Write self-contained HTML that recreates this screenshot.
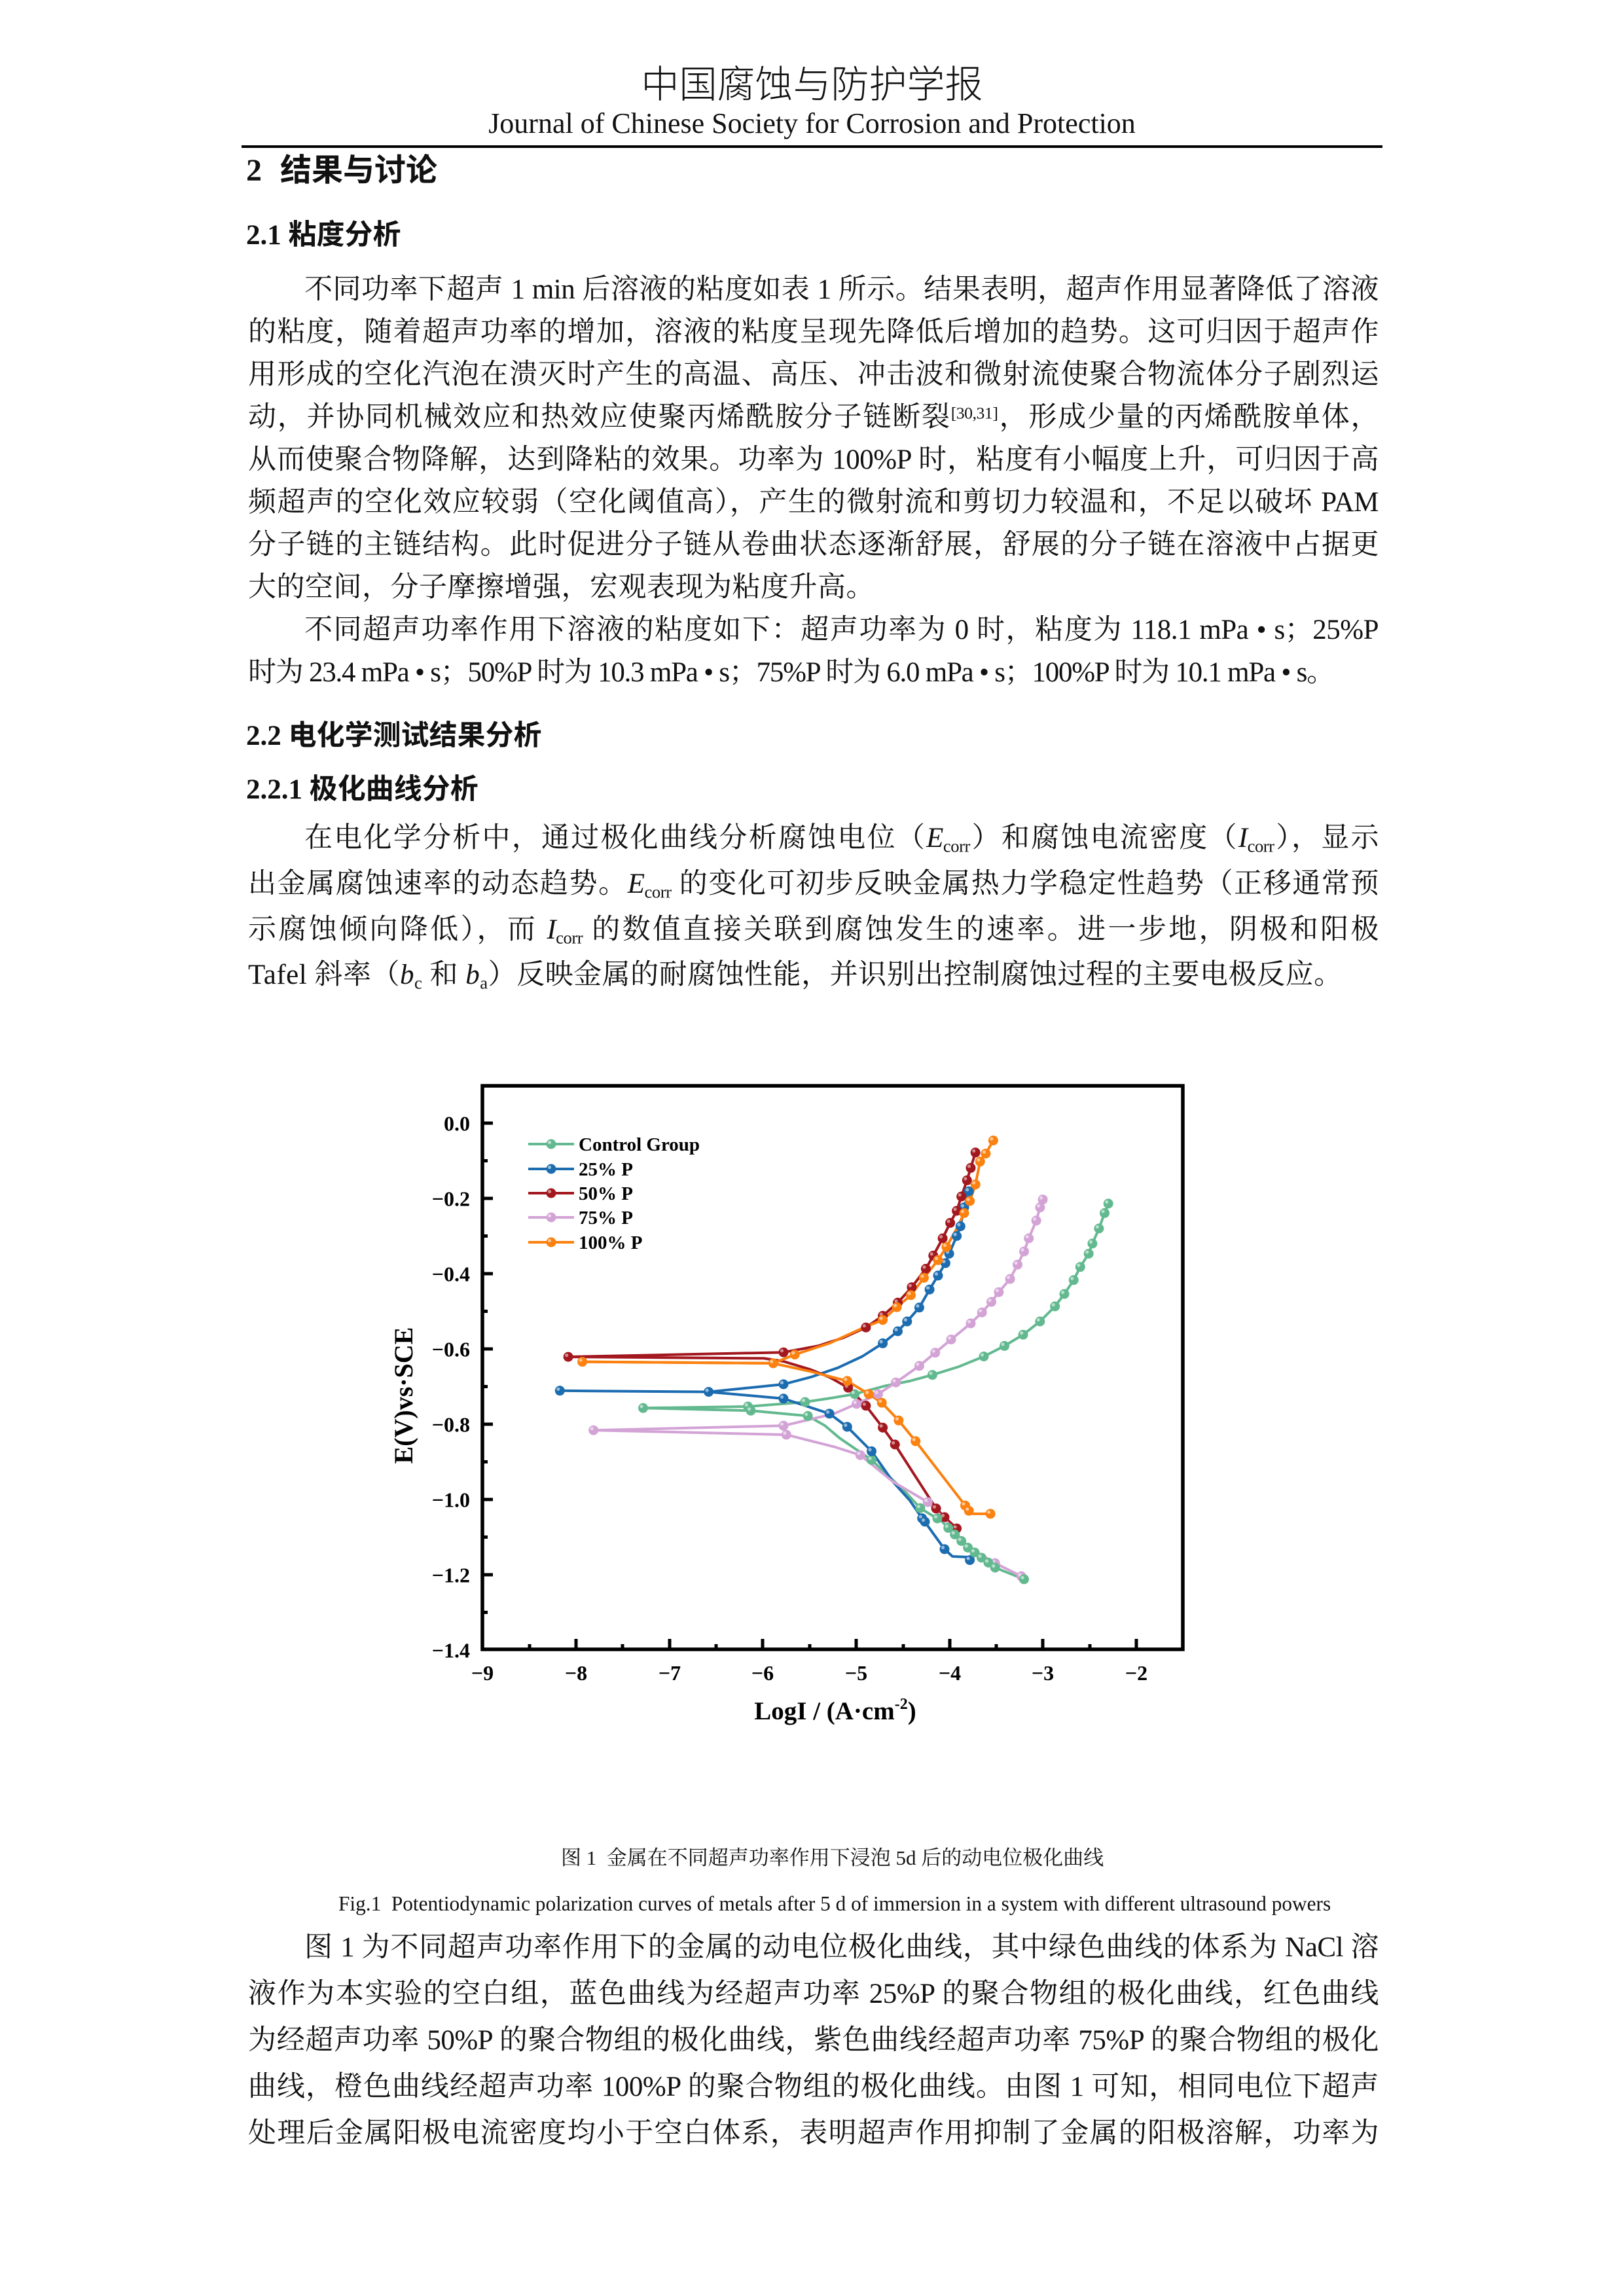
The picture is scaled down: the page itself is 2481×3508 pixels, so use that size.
<!DOCTYPE html>
<html lang="zh-CN">
<head>
<meta charset="utf-8">
<style>
html,body{margin:0;padding:0;background:#fff;}
#page{position:relative;width:2481px;height:3508px;overflow:hidden;background:#fff;color:#111;}
.t{position:absolute;left:379px;width:1727px;font-family:"Liberation Serif","Noto Serif CJK SC",serif;font-size:43px;line-height:43px;white-space:normal;}
.j{text-align:justify;text-align-last:justify;letter-spacing:-0.5px;}
.ind{text-indent:86px;}
.h{position:absolute;left:376px;font-family:"Liberation Serif","Noto Sans CJK SC",sans-serif;font-weight:bold;white-space:nowrap;}
sub{font-size:0.62em;vertical-align:-0.28em;line-height:0;}
sup{font-size:0.6em;vertical-align:0.45em;line-height:0;}
svg text{font-family:"Liberation Serif",serif;font-weight:bold;fill:#000;}
</style>
</head>
<body>
<div id="page">

<div style="position:absolute;left:0;width:2481px;top:101px;text-align:center;font-family:'Liberation Sans','Noto Sans CJK SC',sans-serif;font-weight:300;font-size:58px;line-height:58px;">中国腐蚀与防护学报</div>
<div style="position:absolute;left:0;width:2481px;top:167px;text-align:center;font-family:'Liberation Serif',serif;font-size:44px;line-height:44px;">Journal of Chinese Society for Corrosion and Protection</div>
<div style="position:absolute;left:369px;top:222px;width:1743px;height:4px;background:#000;"></div>

<div class="h" style="top:237px;font-size:48px;line-height:48px;">2<span style="margin-left:28px">结果与讨论</span></div>
<div class="h" style="top:338px;font-size:43px;line-height:43px;">2.1 粘度分析</div>

<div class="t j ind" style="top:421px;">不同功率下超声 1 min 后溶液的粘度如表 1 所示。结果表明，超声作用显著降低了溶液</div>
<div class="t j" style="top:486px;">的粘度，随着超声功率的增加，溶液的粘度呈现先降低后增加的趋势。这可归因于超声作</div>
<div class="t j" style="top:551px;">用形成的空化汽泡在溃灭时产生的高温、高压、冲击波和微射流使聚合物流体分子剧烈运</div>
<div class="t j" style="top:616px;">动，并协同机械效应和热效应使聚丙烯酰胺分子链断裂<sup>[30,31]</sup>，形成少量的丙烯酰胺单体，</div>
<div class="t j" style="top:681px;">从而使聚合物降解，达到降粘的效果。功率为 100%P 时，粘度有小幅度上升，可归因于高</div>
<div class="t j" style="top:746px;">频超声的空化效应较弱（空化阈值高），产生的微射流和剪切力较温和，不足以破坏 PAM</div>
<div class="t j" style="top:811px;">分子链的主链结构。此时促进分子链从卷曲状态逐渐舒展，舒展的分子链在溶液中占据更</div>
<div class="t" style="top:876px;letter-spacing:0.5px;">大的空间，分子摩擦增强，宏观表现为粘度升高。</div>
<div class="t j ind" style="top:941px;">不同超声功率作用下溶液的粘度如下：超声功率为 0 时，粘度为 118.1 mPa • s；25%P</div>
<div class="t" style="top:1006px;width:1800px;letter-spacing:-1.25px;white-space:nowrap;">时为 23.4 mPa • s；50%P 时为 10.3 mPa • s；75%P 时为 6.0 mPa • s；100%P 时为 10.1 mPa • s。</div>

<div class="h" style="top:1103px;font-size:43px;line-height:43px;">2.2 电化学测试结果分析</div>
<div class="h" style="top:1185px;font-size:43px;line-height:43px;">2.2.1 极化曲线分析</div>

<div class="t j ind" style="top:1259px;">在电化学分析中，通过极化曲线分析腐蚀电位（<i>E</i><sub>corr</sub>）和腐蚀电流密度（<i>I</i><sub>corr</sub>），显示</div>
<div class="t j" style="top:1329px;">出金属腐蚀速率的动态趋势。<i>E</i><sub>corr</sub> 的变化可初步反映金属热力学稳定性趋势（正移通常预</div>
<div class="t j" style="top:1399px;">示腐蚀倾向降低），而 <i>I</i><sub>corr</sub> 的数值直接关联到腐蚀发生的速率。进一步地，阴极和阳极</div>
<div class="t" style="top:1468px;letter-spacing:0.5px;">Tafel 斜率（<i>b</i><sub>c</sub> 和 <i>b</i><sub>a</sub>）反映金属的耐腐蚀性能，并识别出控制腐蚀过程的主要电极反应。</div>

<svg width="2481" height="3508" viewBox="0 0 2481 3508" xmlns="http://www.w3.org/2000/svg" style="position:absolute;left:0;top:0;">
<defs>
<g id="mg"><circle r="7.5" fill="#63b98f"/><circle cx="-2.5" cy="-2.5" r="2.6" fill="#fff" opacity=".55"/></g>
<g id="mb"><circle r="7.5" fill="#1c6cb0"/><circle cx="-2.5" cy="-2.5" r="2.6" fill="#fff" opacity=".55"/></g>
<g id="mr"><circle r="7.5" fill="#a3181f"/><circle cx="-2.5" cy="-2.5" r="2.6" fill="#fff" opacity=".5"/></g>
<g id="mp"><circle r="7.5" fill="#d3a3d6"/><circle cx="-2.5" cy="-2.5" r="2.6" fill="#fff" opacity=".55"/></g>
<g id="mo"><circle r="7.5" fill="#fb8110"/><circle cx="-2.5" cy="-2.5" r="2.6" fill="#fff" opacity=".55"/></g>
</defs>

<rect x="737" y="1659" width="1070" height="861" fill="none" stroke="#000" stroke-width="5.5"/>
<path d="M737 1716h16M737 1831h16M737 1946h16M737 2061h16M737 2176h16M737 2291h16M737 2406h16
M737 1773.5h8M737 1888.5h8M737 2003.5h8M737 2118.5h8M737 2233.5h8M737 2348.5h8M737 2463.5h8
M880 2520v-16M1023 2520v-16M1165 2520v-16M1308 2520v-16M1451 2520v-16M1593 2520v-16M1736 2520v-16
M809 2520v-8M951 2520v-8M1094 2520v-8M1237 2520v-8M1380 2520v-8M1522 2520v-8M1665 2520v-8" stroke="#000" stroke-width="5" fill="none"/>

<g font-size="32" text-anchor="end">
<text x="718" y="1727.5">0.0</text>
<text x="718" y="1842.5">−0.2</text>
<text x="718" y="1957.5">−0.4</text>
<text x="718" y="2072.5">−0.6</text>
<text x="718" y="2187.5">−0.8</text>
<text x="718" y="2302.5">−1.0</text>
<text x="718" y="2417.5">−1.2</text>
<text x="718" y="2532.5">−1.4</text>
</g>
<g font-size="32" text-anchor="middle">
<text x="737" y="2567">−9</text>
<text x="880" y="2567">−8</text>
<text x="1023" y="2567">−7</text>
<text x="1165" y="2567">−6</text>
<text x="1308" y="2567">−5</text>
<text x="1451" y="2567">−4</text>
<text x="1593" y="2567">−3</text>
<text x="1736" y="2567">−2</text>
</g>
<text transform="translate(630,2132) rotate(-90)" font-size="40" text-anchor="middle">E(V)vs·SCE</text>
<text x="1276" y="2627" font-size="39" text-anchor="middle">LogI / (A·cm<tspan font-size="24" dy="-16">-2</tspan><tspan dy="16">)</tspan></text>

<g fill="none" stroke-width="4" stroke-linejoin="round" stroke-linecap="round">
<polyline stroke="#63b98f" points="982.5,2151.3 1142.7,2149 1229.9,2142.1 1270,2136 1305.7,2130 1350,2118 1390,2110 1424.4,2100.7 1465,2088 1503,2072.5 1534.5,2056.4 1563.1,2039.2 1588.8,2019 1611.7,1996 1626,1977 1640.3,1955.8 1650.3,1935.7 1663.2,1915.5 1668.9,1900 1678.9,1877 1687.5,1853.4 1693.2,1839"/>
<polyline stroke="#63b98f" points="982.5,2151.3 1147,2155.3 1234.2,2163.4 1260,2178 1282.8,2197.3 1331.5,2230.6 1381.5,2277.8 1405.8,2304.2 1438.7,2324.4 1478.7,2364.6 1520.2,2395.1 1564.5,2412.9"/>

<polyline stroke="#1c6cb0" points="855.3,2124.8 1082.6,2126.6 1197,2115 1238.5,2104.1 1280,2089.8 1317.2,2072.5 1348.6,2052.4 1371.5,2034 1385.8,2019 1404.4,1997.8 1420.1,1970.2 1433,1948.9 1444.4,1929.9 1450.1,1915.5 1461.6,1888.5 1467.3,1873.6 1473,1844.8 1480.2,1820.1"/>
<polyline stroke="#1c6cb0" points="1082.6,2126.6 1197,2136.9 1267.1,2159.9 1294.3,2180 1331.5,2217.4 1364.3,2264 1390.1,2292.7 1408.7,2319.8 1417.3,2331.3 1443,2366.9 1455,2378 1478,2379 1481.6,2383.6"/>

<polyline stroke="#a3181f" points="868.1,2073.1 1197,2066.2 1249.9,2056.4 1288.6,2043.8 1322.9,2028.2 1348.6,2010.4 1371.5,1990.3 1392.9,1966.7 1414.4,1938.5 1425.8,1918.4 1440.1,1892 1451.6,1868.4 1461.6,1850 1468.7,1828.1 1477.3,1803.4 1483,1784.4 1490.2,1760.9"/>
<polyline stroke="#a3181f" points="868.1,2073.1 1167,2075.4 1197,2080 1238.5,2092.6 1267.1,2104.1 1295.7,2120.2 1322.9,2147.8 1348.6,2181.2 1367.2,2207 1430.1,2304.8 1443,2318 1461.6,2335.3"/>

<polyline stroke="#d3a3d6" points="906.7,2185.2 1197,2178.3 1274.3,2159.9 1308.6,2145 1341.5,2130 1368.6,2112.2 1404.4,2086.9 1428.7,2066.8 1453,2046.6 1483,2021.9 1500.2,2005.2 1514.5,1989.1 1525.9,1974.2 1543.1,1954.1 1554.5,1932.2 1564.5,1912.1 1571.7,1892 1583.1,1864.9 1588.9,1844.8 1593.1,1832.7"/>
<polyline stroke="#d3a3d6" points="906.7,2185.2 1201.3,2192.1 1274.3,2210.5 1314.3,2223.2 1364.3,2264 1417.3,2295 1445.9,2324.4 1478.7,2363.5 1520.2,2388.2 1560.3,2408.3"/>

<polyline stroke="#fb8110" points="889.6,2080.6 1181.3,2082.9 1214.2,2069.6 1267.1,2052.4 1317.2,2029.4 1348.6,2016.7 1370.1,1997.2 1391.5,1978.8 1411.5,1952.3 1433,1925.3 1445.9,1905.2 1460.2,1879.9 1473,1853.4 1481.6,1835 1490.2,1809.7 1497.3,1774.7 1505.9,1762.6 1517.4,1742.5"/>
<polyline stroke="#fb8110" points="889.6,2080.6 1181.3,2082.9 1238.5,2095.5 1294.3,2109.9 1327.2,2130 1347.2,2143.2 1372.9,2170.3 1398.7,2201.9 1474.5,2300.2 1480.2,2308.3 1485.9,2312.9 1513.1,2312.9"/>
</g>

<g>
<use href="#mg" x="982.5" y="2151.3"/><use href="#mg" x="1142.7" y="2149"/><use href="#mg" x="1147" y="2155.3"/><use href="#mg" x="1229.9" y="2142.1"/><use href="#mg" x="1234.2" y="2163.4"/><use href="#mg" x="1305.7" y="2130"/><use href="#mg" x="1331.5" y="2230.6"/><use href="#mg" x="1424.4" y="2100.7"/><use href="#mg" x="1503" y="2072.5"/><use href="#mg" x="1534.5" y="2056.4"/><use href="#mg" x="1563.1" y="2039.2"/><use href="#mg" x="1588.8" y="2019"/><use href="#mg" x="1611.7" y="1996"/><use href="#mg" x="1626" y="1977"/><use href="#mg" x="1640.3" y="1955.8"/><use href="#mg" x="1650.3" y="1935.7"/><use href="#mg" x="1663.2" y="1915.5"/><use href="#mg" x="1668.9" y="1900"/><use href="#mg" x="1678.9" y="1877"/><use href="#mg" x="1687.5" y="1853.4"/><use href="#mg" x="1693.2" y="1839"/>
</g>
<g>
<use href="#mb" x="855.3" y="2124.8"/><use href="#mb" x="1082.6" y="2126.6"/><use href="#mb" x="1197" y="2115"/><use href="#mb" x="1348.6" y="2052.4"/><use href="#mb" x="1371.5" y="2034"/><use href="#mb" x="1385.8" y="2019"/><use href="#mb" x="1404.4" y="1997.8"/><use href="#mb" x="1420.1" y="1970.2"/><use href="#mb" x="1433" y="1948.9"/><use href="#mb" x="1444.4" y="1929.9"/><use href="#mb" x="1450.1" y="1915.5"/><use href="#mb" x="1461.6" y="1888.5"/><use href="#mb" x="1467.3" y="1873.6"/><use href="#mb" x="1473" y="1844.8"/><use href="#mb" x="1480.2" y="1820.1"/><use href="#mb" x="1197" y="2136.9"/><use href="#mb" x="1267.1" y="2159.9"/><use href="#mb" x="1294.3" y="2180"/><use href="#mb" x="1331.5" y="2217.4"/><use href="#mb" x="1408.7" y="2319.8"/><use href="#mb" x="1413" y="2325"/><use href="#mb" x="1443" y="2366.9"/><use href="#mb" x="1481.6" y="2383.6"/>
</g>
<g>
<use href="#mr" x="868.1" y="2073.1"/><use href="#mr" x="1197" y="2066.2"/><use href="#mr" x="1322.9" y="2028.2"/><use href="#mr" x="1348.6" y="2010.4"/><use href="#mr" x="1371.5" y="1990.3"/><use href="#mr" x="1392.9" y="1966.7"/><use href="#mr" x="1414.4" y="1938.5"/><use href="#mr" x="1425.8" y="1918.4"/><use href="#mr" x="1440.1" y="1892"/><use href="#mr" x="1451.6" y="1868.4"/><use href="#mr" x="1461.6" y="1850"/><use href="#mr" x="1468.7" y="1828.1"/><use href="#mr" x="1477.3" y="1803.4"/><use href="#mr" x="1483" y="1784.4"/><use href="#mr" x="1490.2" y="1760.9"/><use href="#mr" x="1295.7" y="2120.2"/><use href="#mr" x="1322.9" y="2147.8"/><use href="#mr" x="1348.6" y="2181.2"/><use href="#mr" x="1367.2" y="2207"/><use href="#mr" x="1430.1" y="2304.8"/><use href="#mr" x="1443" y="2318"/><use href="#mr" x="1461.6" y="2335.3"/>
</g>
<g>
<use href="#mp" x="906.7" y="2185.2"/><use href="#mp" x="1197" y="2178.3"/><use href="#mp" x="1308.6" y="2145"/><use href="#mp" x="1341.5" y="2130"/><use href="#mp" x="1368.6" y="2112.2"/><use href="#mp" x="1404.4" y="2086.9"/><use href="#mp" x="1428.7" y="2066.8"/><use href="#mp" x="1453" y="2046.6"/><use href="#mp" x="1483" y="2021.9"/><use href="#mp" x="1500.2" y="2005.2"/><use href="#mp" x="1514.5" y="1989.1"/><use href="#mp" x="1525.9" y="1974.2"/><use href="#mp" x="1543.1" y="1954.1"/><use href="#mp" x="1554.5" y="1932.2"/><use href="#mp" x="1564.5" y="1912.1"/><use href="#mp" x="1571.7" y="1892"/><use href="#mp" x="1583.1" y="1864.9"/><use href="#mp" x="1588.9" y="1844.8"/><use href="#mp" x="1593.1" y="1832.7"/><use href="#mp" x="1201.3" y="2192.1"/><use href="#mp" x="1314.3" y="2223.2"/><use href="#mp" x="1417.3" y="2295"/><use href="#mp" x="1520.2" y="2388.2"/><use href="#mp" x="1560.3" y="2408.3"/>
</g>
<g>
<use href="#mg" x="1405.8" y="2304.2"/><use href="#mg" x="1432" y="2320"/><use href="#mg" x="1448.7" y="2334.4"/><use href="#mg" x="1458.7" y="2344.5"/><use href="#mg" x="1468.7" y="2354.5"/><use href="#mg" x="1478.7" y="2364.6"/><use href="#mg" x="1489" y="2372"/><use href="#mg" x="1499.5" y="2380"/><use href="#mg" x="1510" y="2387.5"/><use href="#mg" x="1520.2" y="2395.1"/><use href="#mg" x="1564.5" y="2412.9"/>
</g>
<g>
<use href="#mo" x="889.6" y="2080.6"/><use href="#mo" x="1214.2" y="2069.6"/><use href="#mo" x="1348.6" y="2016.7"/><use href="#mo" x="1370.1" y="1997.2"/><use href="#mo" x="1391.5" y="1978.8"/><use href="#mo" x="1411.5" y="1952.3"/><use href="#mo" x="1433" y="1925.3"/><use href="#mo" x="1445.9" y="1905.2"/><use href="#mo" x="1473" y="1853.4"/><use href="#mo" x="1481.6" y="1835"/><use href="#mo" x="1490.2" y="1809.7"/><use href="#mo" x="1497.3" y="1774.7"/><use href="#mo" x="1505.9" y="1762.6"/><use href="#mo" x="1517.4" y="1742.5"/><use href="#mo" x="1181.3" y="2082.9"/><use href="#mo" x="1294.3" y="2109.9"/><use href="#mo" x="1327.2" y="2130"/><use href="#mo" x="1347.2" y="2143.2"/><use href="#mo" x="1372.9" y="2170.3"/><use href="#mo" x="1398.7" y="2201.9"/><use href="#mo" x="1474.5" y="2300.2"/><use href="#mo" x="1480.2" y="2308.3"/><use href="#mo" x="1513.1" y="2312.9"/>
</g>

<g stroke-width="4">
<line x1="807" y1="1748" x2="877" y2="1748" stroke="#63b98f"/>
<line x1="807" y1="1786" x2="877" y2="1786" stroke="#1c6cb0"/>
<line x1="807" y1="1823" x2="877" y2="1823" stroke="#a3181f"/>
<line x1="807" y1="1860" x2="877" y2="1860" stroke="#d3a3d6"/>
<line x1="807" y1="1898" x2="877" y2="1898" stroke="#fb8110"/>
</g>
<use href="#mg" x="842" y="1748"/><use href="#mb" x="842" y="1786"/><use href="#mr" x="842" y="1823"/><use href="#mp" x="842" y="1860"/><use href="#mo" x="842" y="1898"/>
<g font-size="29">
<text x="884" y="1758">Control Group</text>
<text x="884" y="1796">25% P</text>
<text x="884" y="1833">50% P</text>
<text x="884" y="1870">75% P</text>
<text x="884" y="1908">100% P</text>
</g>
</svg>

<div style="position:absolute;left:857px;top:2823px;font-family:'Liberation Serif','Noto Serif CJK SC',serif;font-size:31px;line-height:31px;white-space:nowrap;">图 1&nbsp;&nbsp;金属在不同超声功率作用下浸泡 5d 后的动电位极化曲线</div>
<div style="position:absolute;left:517px;top:2893px;font-family:'Liberation Serif',serif;font-size:31.3px;line-height:31.3px;white-space:nowrap;">Fig.1&nbsp;&nbsp;Potentiodynamic polarization curves of metals after 5 d of immersion in a system with different ultrasound powers</div>

<div class="t j ind" style="top:2954px;">图 1 为不同超声功率作用下的金属的动电位极化曲线，其中绿色曲线的体系为 NaCl 溶</div>
<div class="t j" style="top:3025px;">液作为本实验的空白组，蓝色曲线为经超声功率 25%P 的聚合物组的极化曲线，红色曲线</div>
<div class="t j" style="top:3096px;">为经超声功率 50%P 的聚合物组的极化曲线，紫色曲线经超声功率 75%P 的聚合物组的极化</div>
<div class="t j" style="top:3167px;">曲线，橙色曲线经超声功率 100%P 的聚合物组的极化曲线。由图 1 可知，相同电位下超声</div>
<div class="t j" style="top:3238px;">处理后金属阳极电流密度均小于空白体系，表明超声作用抑制了金属的阳极溶解，功率为</div>

</div>
</body>
</html>
